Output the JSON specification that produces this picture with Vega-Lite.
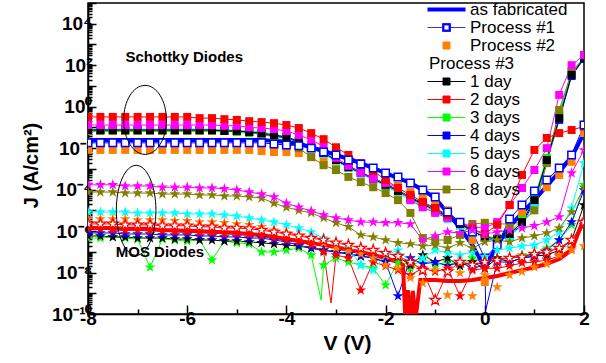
{
"$schema":"https://vega.github.io/schema/vega-lite/v6.json",
"width":496,"height":311,
"autosize":{"type":"none"},
"padding":{"left":88,"top":3,"right":22,"bottom":49},
"background":"white",
"config":{"view":{"stroke":"black","strokeWidth":1.5},
 "axis":{"domainColor":"black","domainWidth":1.5,"tickColor":"black","tickWidth":1.5,"labelColor":"black","titleColor":"black","grid":false,"labelFont":"Liberation Sans","labelFontWeight":"bold","titleFont":"Liberation Sans","titleFontWeight":"bold","labelFlush":false,"labelOverlap":false}},
"data":{"values":[
{"g":"MOS","s":"3 days","V":[-8,-7.75,-7.5,-7.25,-7,-6.75,-6.5,-6.25,-6,-5.75,-5.5,-5.25,-5,-4.75,-4.5,-4.25,-4,-3.75,-3.5,-3.3,-3.25,-3,-2.75,-2.5,-2.25,-2,-1.75,-1.5,-1.25,-1,-0.75,-0.5,-0.25,0,0.25,0.5,0.75,1,1.25,1.5,1.75,2],"J":[4.6e-7,4.6e-7,5.2e-7,4.6e-7,4.1e-7,1.8e-8,4.1e-7,3.7e-7,3.3e-7,3.7e-7,4.0e-8,3.3e-7,2.7e-7,2.4e-7,9.8e-8,9.8e-8,1.2e-7,1.5e-7,7.0e-8,4.7e-10,2.3e-8,5.0e-8,3.2e-8,2.3e-8,1.6e-8,2.5e-9,3.2e-8,1.6e-8,5.0e-8,2.3e-8,3.2e-8,2.1e-8,5.0e-8,3.2e-8,4.0e-8,5.0e-8,7.0e-8,7.8e-8,1.5e-7,3.7e-7,2.0e-6,1.7e-4]},
{"g":"MOS","s":"1 day","V":[-8,-7.75,-7.5,-7.25,-7,-6.75,-6.5,-6.25,-6,-5.75,-5.5,-5.25,-5,-4.75,-4.5,-4.25,-4,-3.75,-3.5,-3.25,-3,-2.75,-2.5,-2.25,-2,-1.75,-1.5,-1.25,-1,-0.75,-0.5,-0.25,0,0.25,0.5,0.75,1,1.25,1.5,1.75,2],"J":[5.8e-7,5.8e-7,5.2e-7,5.2e-7,4.6e-7,4.6e-7,4.6e-7,4.1e-7,4.1e-7,3.7e-7,3.7e-7,3.3e-7,3.3e-7,3.0e-7,2.7e-7,2.4e-7,2.1e-7,1.9e-7,1.5e-7,1.2e-7,9.8e-8,7.8e-8,6.2e-8,5.0e-8,3.2e-8,5.6e-8,2.3e-8,7.0e-8,3.2e-8,5.0e-8,2.1e-8,3.2e-8,1.6e-8,5.0e-8,3.2e-8,5.0e-8,6.2e-8,7.0e-8,1.2e-7,3.7e-7,1.8e-5]},
{"g":"MOS","s":"4 days","V":[-8,-7.75,-7.5,-7.25,-7,-6.75,-6.5,-6.25,-6,-5.75,-5.5,-5.25,-5,-4.75,-4.5,-4.25,-4,-3.75,-3.5,-3.25,-3,-2.75,-2.5,-2.25,-2,-1.75,-1.5,-1.25,-1,-0.75,-0.5,-0.25,0,0.02,0.25,0.5,0.75,1,1.25,1.5,1.75,2],"J":[8.1e-7,8.1e-7,8.1e-7,7.2e-7,7.2e-7,7.2e-7,6.5e-7,6.5e-7,6.5e-7,5.8e-7,5.8e-7,5.2e-7,5.2e-7,4.6e-7,4.6e-7,3.7e-7,3.0e-7,2.1e-7,1.5e-7,1.2e-7,9.8e-8,7.8e-8,6.2e-8,5.0e-8,3.2e-8,7.4e-10,5.0e-8,2.6e-8,3.2e-8,2.1e-8,3.2e-8,1.6e-8,2.3e-8,1.6e-10,3.2e-8,3.2e-8,5.0e-8,6.2e-8,1.2e-7,3.7e-7,2.7e-6,9.5e-5]},
{"g":"MOS","s":"2 days","V":[-8,-7.75,-7.5,-7.25,-7,-6.75,-6.5,-6.25,-6,-5.75,-5.5,-5.25,-5,-4.75,-4.5,-4.25,-4,-3.75,-3.5,-3.25,-3.1,-3,-2.75,-2.5,-2.25,-2,-1.75,-1.5,-1.25,-1,-0.75,-0.5,-0.25,0,0.25,0.5,0.75,1,1.25,1.5,1.75,2],"J":[1.3e-6,1.3e-6,1.1e-6,1.1e-6,1.1e-6,1.0e-6,1.0e-6,9.0e-7,9.0e-7,8.1e-7,8.1e-7,7.2e-7,7.2e-7,6.5e-7,5.8e-7,4.6e-7,3.7e-7,3.0e-7,2.1e-7,9.8e-8,3.4e-10,7.0e-8,5.0e-8,1.4e-9,3.2e-8,2.1e-8,1.3e-8,7.6e-9,1.6e-8,1.1e-8,1.6e-8,7.4e-10,1.3e-8,1.6e-8,1.6e-8,2.1e-8,2.9e-8,3.2e-8,4.0e-8,6.2e-8,1.5e-7,2.0e-6]},
{"g":"MOS","s":"Process #1 MOS","V":[-8,-7.75,-7.5,-7.25,-7,-6.75,-6.5,-6.25,-6,-5.75,-5.5,-5.25,-5,-4.75,-4.5,-4.25,-4,-3.75,-3.5,-3.25,-3,-2.75,-2.5,-2.25,-2,-1.75,-1.5,-1.25,-1,-0.75,-0.5,-0.25,0,0.25,0.5,0.75,1,1.25,1.5,1.75,2],"J":[2.2e-6,2.2e-6,2.2e-6,2.0e-6,2.0e-6,2.0e-6,1.8e-6,1.8e-6,1.8e-6,1.6e-6,1.6e-6,1.4e-6,1.4e-6,1.3e-6,1.1e-6,9.0e-7,7.2e-7,5.8e-7,4.6e-7,3.7e-7,2.7e-7,2.1e-7,1.5e-7,1.2e-7,8.7e-8,6.2e-8,3.2e-8,1.3e-8,4.7e-10,1.1e-8,3.2e-8,2.3e-8,3.2e-8,4.0e-8,5.0e-8,5.6e-8,7.8e-8,9.8e-8,1.5e-7,3.7e-7,2.7e-6]},
{"g":"MOS","s":"5 days","V":[-8,-7.75,-7.5,-7.25,-7,-6.75,-6.5,-6.25,-6,-5.75,-5.5,-5.25,-5,-4.75,-4.5,-4.25,-4,-3.75,-3.5,-3.25,-3,-2.75,-2.5,-2.25,-2,-1.75,-1.5,-1.25,-1,-0.75,-0.5,-0.25,0,0.25,0.5,0.75,1,1.25,1.5,1.75,2],"J":[8.3e-6,8.3e-6,8.3e-6,8.3e-6,7.5e-6,7.5e-6,7.5e-6,7.5e-6,6.7e-6,6.7e-6,6.7e-6,6.0e-6,5.3e-6,4.3e-6,3.4e-6,2.7e-6,2.0e-6,1.4e-6,9.0e-7,4.6e-7,2.1e-7,1.5e-7,2.3e-8,1.3e-8,7.0e-8,1.2e-7,3.2e-8,5.0e-8,1.2e-7,8.7e-8,7.0e-8,9.8e-8,5.6e-8,1.2e-7,1.5e-7,1.9e-7,2.1e-7,3.7e-7,9.0e-7,1.3e-5,1.9e-3]},
{"g":"MOS","s":"Process #2","V":[-8,-7.75,-7.5,-7.25,-7,-6.75,-6.5,-6.25,-6,-5.75,-5.5,-5.25,-5,-4.75,-4.5,-4.25,-4,-3.75,-3.5,-3.25,-3,-2.75,-2.5,-2.25,-2,-1.75,-1.5,-1.25,-1,-0.75,-0.5,-0.25,0,0.25,0.5,0.75,1,1.25,1.5,1.75,2],"J":[3.8e-6,3.8e-6,3.8e-6,3.8e-6,3.4e-6,3.4e-6,3.4e-6,3.1e-6,3.1e-6,2.7e-6,2.7e-6,2.5e-6,2.2e-6,2.0e-6,1.6e-6,1.1e-6,8.1e-7,5.8e-7,4.1e-7,2.7e-7,1.5e-7,1.1e-7,7.8e-8,5.0e-8,2.3e-8,1.6e-8,5.5e-9,3.1e-9,1.3e-8,8.2e-10,9.5e-9,7.4e-10,7.6e-9,2.0e-9,7.6e-9,1.1e-8,1.8e-8,2.6e-8,7.0e-8,1.2e-7,1.9e-7]},
{"g":"MOS","s":"8 days","V":[-8,-7.75,-7.5,-7.25,-7,-6.75,-6.5,-6.25,-6,-5.75,-5.5,-5.25,-5,-4.75,-4.5,-4.25,-4,-3.75,-3.5,-3.25,-3,-2.75,-2.5,-2.25,-2,-1.75,-1.5,-1.25,-1,-0.75,-0.5,-0.25,0,0.25,0.5,0.75,1,1.25,1.5,1.75,2],"J":[7.6e-5,7.6e-5,7.6e-5,6.8e-5,6.8e-5,6.8e-5,6.1e-5,6.1e-5,6.1e-5,5.5e-5,5.5e-5,4.9e-5,4.9e-5,4.4e-5,3.9e-5,2.2e-5,1.4e-5,1.0e-5,7.5e-6,4.3e-6,2.5e-6,1.6e-6,6.5e-7,5.2e-7,3.7e-7,2.7e-7,2.4e-7,1.9e-7,2.1e-7,1.5e-7,2.7e-7,1.5e-7,3.0e-7,3.7e-7,3.0e-7,4.6e-7,5.8e-7,8.1e-7,1.4e-6,8.3e-6,1.3e-4]},
{"g":"MOS","s":"6 days","V":[-8,-7.75,-7.5,-7.25,-7,-6.75,-6.5,-6.25,-6,-5.75,-5.5,-5.25,-5,-4.75,-4.5,-4.25,-4,-3.75,-3.5,-3.25,-3,-2.75,-2.5,-2.25,-2,-1.75,-1.5,-1.25,-1,-0.75,-0.5,-0.25,0,0.25,0.5,0.75,1,1.25,1.5,1.75,2],"J":[1.7e-4,1.7e-4,1.7e-4,1.5e-4,1.5e-4,1.5e-4,1.3e-4,1.3e-4,1.3e-4,1.2e-4,1.2e-4,1.1e-4,9.5e-5,7.6e-5,6.1e-5,4.4e-5,2.2e-5,1.4e-5,9.3e-6,6.0e-6,4.3e-6,3.4e-6,2.7e-6,2.7e-6,2.5e-6,2.5e-6,2.2e-6,3.7e-7,5.8e-7,9.0e-7,8.1e-7,1.1e-6,7.2e-7,9.0e-7,1.1e-6,1.4e-6,1.8e-6,2.7e-6,4.8e-6,6.3e-4,8.2e-3]},
{"g":"MOS","s":"as fabricated MOS","V":[-8,-7.75,-7.5,-7.25,-7,-6.75,-6.5,-6.25,-6,-5.75,-5.5,-5.25,-5,-4.75,-4.5,-4.25,-4,-3.75,-3.5,-3.25,-3,-2.75,-2.5,-2.25,-2,-1.75,-1.65,-1.6,-1.55,-1.5,-1.45,-1.4,-1.3,-1.25,-1,-0.75,-0.5,-0.25,0,0.25,0.5,0.75,1,1.25,1.5,1.75,2],"J":[1.4e-6,1.4e-6,1.4e-6,1.3e-6,1.3e-6,1.3e-6,1.1e-6,1.1e-6,1.0e-6,1.0e-6,9.0e-7,9.0e-7,8.1e-7,7.2e-7,6.5e-7,5.2e-7,4.1e-7,3.3e-7,2.7e-7,2.1e-7,1.7e-7,1.2e-7,9.8e-8,7.0e-8,5.0e-8,3.2e-8,2.3e-8,5e-11,1.4e-9,5e-11,1.3e-9,5e-11,4.4e-9,4.4e-9,4.4e-9,3.9e-9,3.9e-9,4.4e-9,5.5e-9,6.8e-9,9.5e-9,1.3e-8,1.8e-8,2.6e-8,4.5e-8,1.2e-7,4.3e-6]},
{"g":"Schottky","s":"Process #2","V":[-8,-7.75,-7.5,-7.25,-7,-6.75,-6.5,-6.25,-6,-5.75,-5.5,-5.25,-5,-4.75,-4.5,-4.25,-4,-3.75,-3.5,-3.25,-3,-2.75,-2.5,-2.25,-2,-1.75,-1.5,-1.25,-1,-0.75,-0.5,-0.25,0,0.25,0.5,0.75,1,1.25,1.5,1.75,2],"J":[8.2e-3,8.2e-3,8.2e-3,8.2e-3,8.2e-3,8.2e-3,8.2e-3,8.2e-3,8.2e-3,8.2e-3,8.2e-3,8.2e-3,8.2e-3,8.2e-3,7.3e-3,6.5e-3,6.5e-3,5.8e-3,3.7e-3,2.2e-3,1.9e-3,1.2e-3,7.9e-4,5.1e-4,2.9e-4,1.5e-4,7.6e-5,3.9e-5,2.2e-5,1.0e-5,2.5e-6,3.7e-7,3.5e-9,3.7e-7,1.4e-6,7.5e-6,3.1e-5,1.3e-4,5.1e-4,2.2e-3,5.3e-2]},
{"g":"Schottky","s":"Process #1","V":[-8,-7.75,-7.5,-7.25,-7,-6.75,-6.5,-6.25,-6,-5.75,-5.5,-5.25,-5,-4.75,-4.5,-4.25,-4,-3.75,-3.5,-3.25,-3,-2.75,-2.5,-2.25,-2,-1.75,-1.5,-1.25,-1,-0.75,-0.5,-0.25,0,0.25,0.5,0.75,1,1.25,1.5,1.75,2],"J":[1.8e-2,1.8e-2,1.8e-2,1.8e-2,1.8e-2,1.8e-2,1.8e-2,1.8e-2,1.8e-2,1.8e-2,1.8e-2,1.8e-2,1.8e-2,1.8e-2,1.8e-2,1.6e-2,1.4e-2,1.3e-2,1.0e-2,6.5e-3,4.7e-3,2.7e-3,1.7e-3,1.1e-3,6.3e-4,4.1e-4,2.1e-4,9.5e-5,4.4e-5,8.3e-6,2.7e-6,9.0e-7,5.0e-8,2.1e-7,3.8e-6,1.8e-5,8.5e-5,2.9e-4,1.1e-3,4.7e-3,1.3e-1]},
{"g":"Schottky","s":"as fabricated","V":[-8,-7.75,-7.5,-7.25,-7,-6.75,-6.5,-6.25,-6,-5.75,-5.5,-5.25,-5,-4.75,-4.5,-4.25,-4,-3.75,-3.5,-3.25,-3,-2.75,-2.5,-2.25,-2,-1.75,-1.5,-1.25,-1,-0.75,-0.5,-0.25,0,0.25,0.5,0.75,1,1.25,1.5,1.75,2],"J":[2.5e-2,2.5e-2,2.5e-2,2.5e-2,2.5e-2,2.5e-2,2.5e-2,2.5e-2,2.5e-2,2.5e-2,2.5e-2,2.5e-2,2.5e-2,2.5e-2,2.5e-2,2.2e-2,2.0e-2,1.6e-2,1.1e-2,7.3e-3,4.7e-3,3.0e-3,1.9e-3,1.1e-3,6.3e-4,3.6e-4,2.1e-4,9.5e-5,3.9e-5,7.5e-6,1.4e-6,2.1e-7,1.6e-8,2.1e-7,1.6e-6,7.5e-6,3.1e-5,1.5e-4,7.1e-4,3.7e-3,5.3e-2]},
{"g":"Schottky","s":"3 days","V":[-8,-7.75,-7.5,-7.25,-7,-6.75,-6.5,-6.25,-6,-5.75,-5.5,-5.25,-5,-4.75,-4.5,-4.25,-4,-3.75,-3.5,-3.25,-3,-2.75,-2.5,-2.25,-2,-1.75,-1.5,-1.25,-1,-0.75,-0.5,-0.25,0,0.25,0.5,0.75,1,1.25,1.5,1.75,2],"J":[6.7e-2,6.7e-2,6.7e-2,6.7e-2,6.7e-2,6.7e-2,6.7e-2,6.7e-2,6.7e-2,6.7e-2,6.7e-2,6.7e-2,6.0e-2,5.3e-2,4.8e-2,3.8e-2,3.1e-2,2.0e-2,1.0e-2,5.2e-3,2.4e-3,1.2e-3,6.3e-4,3.3e-4,1.5e-4,7.6e-5,3.5e-5,1.8e-5,9.3e-6,4.3e-6,2.0e-6,9.0e-7,5.8e-7,4.6e-7,9.0e-7,3.4e-6,3.9e-5,3.4e-3,4.4e-1,4.7e1,2.5e2]},
{"g":"Schottky","s":"4 days","V":[-8,-7.75,-7.5,-7.25,-7,-6.75,-6.5,-6.25,-6,-5.75,-5.5,-5.25,-5,-4.75,-4.5,-4.25,-4,-3.75,-3.5,-3.25,-3,-2.75,-2.5,-2.25,-2,-1.75,-1.5,-1.25,-1,-0.75,-0.5,-0.25,0,0.25,0.5,0.75,1,1.25,1.5,1.75,2],"J":[7.5e-2,7.5e-2,7.5e-2,7.5e-2,7.5e-2,7.5e-2,7.5e-2,7.5e-2,7.5e-2,7.5e-2,7.5e-2,7.5e-2,6.7e-2,6.0e-2,4.8e-2,3.8e-2,3.1e-2,2.0e-2,1.1e-2,5.8e-3,2.7e-3,1.4e-3,7.1e-4,3.6e-4,1.9e-4,9.5e-5,4.4e-5,2.2e-5,1.2e-5,5.3e-6,2.5e-6,1.1e-6,4.6e-7,3.3e-7,5.8e-7,2.2e-6,2.5e-5,2.2e-3,2.3e-1,3.0e1,2.0e2]},
{"g":"Schottky","s":"5 days","V":[-8,-7.75,-7.5,-7.25,-7,-6.75,-6.5,-6.25,-6,-5.75,-5.5,-5.25,-5,-4.75,-4.5,-4.25,-4,-3.75,-3.5,-3.25,-3,-2.75,-2.5,-2.25,-2,-1.75,-1.5,-1.25,-1,-0.75,-0.5,-0.25,0,0.25,0.5,0.75,1,1.25,1.5,1.75,2],"J":[8.3e-2,8.3e-2,8.3e-2,8.3e-2,8.3e-2,8.3e-2,8.3e-2,8.3e-2,8.3e-2,8.3e-2,8.3e-2,7.5e-2,7.5e-2,6.7e-2,6.0e-2,4.8e-2,3.4e-2,2.2e-2,1.1e-2,5.2e-3,2.4e-3,1.1e-3,5.7e-4,2.9e-4,1.5e-4,6.8e-5,3.1e-5,1.6e-5,8.3e-6,3.8e-6,1.8e-6,8.1e-7,4.6e-7,3.7e-7,5.8e-7,1.8e-6,1.8e-5,1.9e-3,3.6e-1,4.2e1,2.5e2]},
{"g":"Schottky","s":"8 days","V":[-8,-7.75,-7.5,-7.25,-7,-6.75,-6.5,-6.25,-6,-5.75,-5.5,-5.25,-5,-4.75,-4.5,-4.25,-4,-3.75,-3.5,-3.25,-3,-2.75,-2.5,-2.25,-2,-1.75,-1.5,-1.25,-1,-0.75,-0.5,-0.25,0,0.25,0.5,0.75,1,1.25,1.5,1.75,2],"J":[6.7e-2,6.7e-2,6.7e-2,6.7e-2,6.7e-2,6.7e-2,6.7e-2,6.7e-2,6.7e-2,6.7e-2,6.7e-2,6.7e-2,6.7e-2,6.0e-2,4.8e-2,3.4e-2,2.0e-2,1.0e-2,3.7e-3,1.5e-3,8.8e-4,4.1e-4,2.3e-4,1.3e-4,6.8e-5,3.1e-5,7.5e-6,4.6e-7,3.7e-7,3.7e-7,6.5e-7,2.2e-6,2.5e-6,2.2e-6,2.2e-6,2.7e-6,1.0e-5,1.9e-3,6.9e-1,4.7e1,2.2e2]},
{"g":"Schottky","s":"1 day","V":[-8,-7.75,-7.5,-7.25,-7,-6.75,-6.5,-6.25,-6,-5.75,-5.5,-5.25,-5,-4.75,-4.5,-4.25,-4,-3.75,-3.5,-3.25,-3,-2.75,-2.5,-2.25,-2,-1.75,-1.5,-1.25,-1,-0.75,-0.5,-0.25,0,0.25,0.5,0.75,1,1.25,1.5,1.75,2],"J":[7.5e-2,7.5e-2,7.5e-2,7.5e-2,7.5e-2,7.5e-2,7.5e-2,7.5e-2,7.5e-2,7.5e-2,7.5e-2,6.7e-2,6.7e-2,6.0e-2,5.3e-2,4.3e-2,3.4e-2,2.2e-2,1.1e-2,5.8e-3,2.7e-3,1.2e-3,6.3e-4,3.3e-4,1.7e-4,8.5e-5,3.9e-5,2.0e-5,1.0e-5,4.8e-6,2.2e-6,1.0e-6,5.2e-7,4.1e-7,7.2e-7,2.7e-6,3.1e-5,2.7e-3,2.8e-1,3.4e1,2.2e2]},
{"g":"Schottky","s":"6 days","V":[-8,-7.75,-7.5,-7.25,-7,-6.75,-6.5,-6.25,-6,-5.75,-5.5,-5.25,-5,-4.75,-4.5,-4.25,-4,-3.75,-3.5,-3.25,-3,-2.75,-2.5,-2.25,-2,-1.75,-1.5,-1.25,-1,-0.75,-0.5,-0.25,0,0.25,0.5,0.75,1,1.25,1.5,1.75,2],"J":[1.3e-1,1.3e-1,1.3e-1,1.3e-1,1.3e-1,1.3e-1,1.3e-1,1.3e-1,1.3e-1,1.3e-1,1.3e-1,1.2e-1,1.2e-1,1.0e-1,9.3e-2,8.3e-2,6.7e-2,4.3e-2,2.5e-2,1.2e-2,3.4e-3,1.4e-3,6.3e-4,3.3e-4,2.1e-4,1.2e-4,3.1e-5,1.4e-5,7.5e-6,4.3e-6,2.7e-6,1.6e-6,1.4e-6,2.7e-6,1.8e-5,1.2e-4,8.8e-4,1.0e-2,3.7,1.0e2,3.1e2]},
{"g":"Schottky","s":"2 days","V":[-8,-7.75,-7.5,-7.25,-7,-6.75,-6.5,-6.25,-6,-5.75,-5.5,-5.25,-5,-4.75,-4.5,-4.25,-4,-3.75,-3.5,-3.25,-3,-2.75,-2.5,-2.25,-2,-1.75,-1.5,-1.25,-1,-0.75,-0.5,-0.25,0,0.25,0.5,0.75,1,1.25,1.5,1.75,2],"J":[3.2e-1,3.2e-1,3.2e-1,3.2e-1,3.2e-1,3.2e-1,3.2e-1,3.2e-1,3.2e-1,2.8e-1,2.8e-1,2.5e-1,2.3e-1,2.0e-1,1.8e-1,1.6e-1,1.3e-1,9.3e-2,5.3e-2,2.7e-2,1.1e-2,4.7e-3,1.9e-3,7.9e-4,2.9e-4,1.2e-4,5.5e-5,2.5e-5,1.3e-5,6.0e-6,2.7e-6,1.3e-6,7.2e-7,2.0e-6,1.8e-5,5.1e-4,8.2e-3,3.1e-2,5.3e-2,7.5e-2,1.1e-1]}
]},
"encoding":{
 "x":{"field":"V","type":"quantitative","scale":{"domain":[-8,2],"nice":false,"zero":false},
  "axis":{"values":[-8,-7,-6,-5,-4,-3,-2,-1,0,1,2],"labelExpr":"datum.value % 2 == 0 ? toString(datum.value) : ''","tickSize":{"condition":{"test":"datum.value % 2 == 0","value":-9},"value":-5},"labelFontSize":19,"labelPadding":4,"title":"V (V)","titleFontSize":21,"titleX":259,"titlePadding":0,
   "encode":{"labels":{"update":{"dy":{"value":5}}}}}},
 "y":{"field":"J","type":"quantitative","scale":{"type":"log","domain":[1e-10,1e5],"nice":false},
  "axis":{"values":[1e-10,2e-10,3e-10,4e-10,5e-10,6e-10,7e-10,8e-10,9e-10,1e-9,2e-9,3e-9,4e-9,5e-9,6e-9,7e-9,8e-9,9e-9,1e-8,2e-8,3e-8,4e-8,5e-8,6e-8,7e-8,8e-8,9e-8,1e-7,2e-7,3e-7,4e-7,5e-7,6e-7,7e-7,8e-7,9e-7,1e-6,2e-6,3e-6,4e-6,5e-6,6e-6,7e-6,8e-6,9e-6,1e-5,2e-5,3e-5,4e-5,5e-5,6e-5,7e-5,8e-5,9e-5,1e-4,2e-4,3e-4,4e-4,5e-4,6e-4,7e-4,8e-4,9e-4,1e-3,2e-3,3e-3,4e-3,5e-3,6e-3,7e-3,8e-3,9e-3,1e-2,2e-2,3e-2,4e-2,5e-2,6e-2,7e-2,8e-2,9e-2,1e-1,2e-1,3e-1,4e-1,5e-1,6e-1,7e-1,8e-1,9e-1,1e0,2e0,3e0,4e0,5e0,6e0,7e0,8e0,9e0,1e1,2e1,3e1,4e1,5e1,6e1,7e1,8e1,9e1,1e2,2e2,3e2,4e2,5e2,6e2,7e2,8e2,9e2,1e3,2e3,3e3,4e3,5e3,6e3,7e3,8e3,9e3,1e4,2e4,3e4,4e4,5e4,6e4,7e4,8e4,9e4,1e5],
   "labelExpr":"abs(log(datum.value)/LN10 - round(log(datum.value)/LN10)) < 0.001 && round(log(datum.value)/LN10) % 2 == 0 ? '10' + replace(replace(replace(replace(replace(replace(replace(toString(round(log(datum.value)/LN10)), '-', '⁻'), '0', '⁰'), '1', '¹'), '2', '²'), '4', '⁴'), '6', '⁶'), '8', '⁸') : ''",
   "tickSize":{"condition":{"test":"abs(log(datum.value)/LN10 - round(log(datum.value)/LN10)) < 0.001","value":-8},"value":-4},
   "labelFontSize":19,"labelPadding":4,"title":"J (A/cm²)","titleFontSize":20,"titleX":-47,"titleY":162}},
 "color":{"field":"s","type":"nominal",
  "scale":{"domain":["as fabricated","Process #1","Process #2","Process #3","1 day","2 days","3 days","4 days","5 days","6 days","8 days","as fabricated MOS","Process #1 MOS"],
   "range":["#0000ff","#0000ff","#ff8000","#ffffff","#000000","#ff0000","#00ff00","#0000ff","#00ffff","#ff00ff","#808000","#ff0000","#ff0000"]},
  "legend":{"values":["as fabricated","Process #1","Process #2","Process #3","1 day","2 days","3 days","4 days","5 days","6 days","8 days"],
   "title":null,"orient":"none","legendX":350,"legendY":-2,"padding":0,"labelFont":"Liberation Sans","labelFontSize":17,"labelColor":"black","labelOffset":15,"symbolSize":100,"rowPadding":0,"symbolOffset":0,"labelLimit":200,
   "encode":{"symbols":{"update":{
     "shape":{"signal":"datum.value === 'as fabricated' ? 'M-3.8,0H3.8' : datum.value === 'Process #2' ? 'M-0.7,-0.7H0.7V0.7H-0.7Z' : datum.value === 'Process #1' ? 'M-3.8,0H-0.7M0.7,0H3.8M-0.8,-0.8H0.8V0.8H-0.8ZM-0.5,-0.5V0.5H0.5V-0.5Z' : 'M-3.8,0H-0.7M0.7,0H3.8M-0.7,-0.7H0.7V0.7H-0.7Z'"},
     "fill":{"signal":"scale('color', datum.value)"},
     "stroke":{"signal":"scale('color', datum.value)"},
     "strokeWidth":{"signal":"datum.value === 'as fabricated' ? 4 : datum.value === 'Process #1' ? 0.8 : 1"},
     "opacity":{"signal":"datum.value === 'Process #3' ? 0 : 1"},
     "size":{"value":100}}},
    "labels":{"update":{"dx":{"signal":"datum.value === 'Process #3' ? -41 : 0"}}}}}}
},
"layer":[
 {"transform":[{"flatten":["V","J"]},{"filter":"datum.s !== 'as fabricated' && datum.s !== 'as fabricated MOS' && datum.s !== 'Process #2'"}],
  "mark":{"type":"line","strokeWidth":1,"clip":true},"encoding":{"detail":{"field":"g","type":"nominal"}}},
 {"transform":[{"flatten":["V","J"]},{"filter":"datum.s === 'as fabricated' || datum.s === 'as fabricated MOS'"}],
  "mark":{"type":"line","strokeWidth":4,"clip":true},"encoding":{"detail":{"field":"g","type":"nominal"}}},
 {"transform":[{"flatten":["V","J"]},{"filter":"datum.g === 'Schottky' && datum.s !== 'as fabricated' && datum.s !== 'Process #1' && datum.V * 4 === round(datum.V * 4)"}],
  "mark":{"type":"point","shape":"square","filled":true,"size":64,"opacity":1,"clip":true}},
 {"transform":[{"flatten":["V","J"]},{"filter":"datum.g === 'Schottky' && datum.s === 'Process #1' && datum.V * 4 === round(datum.V * 4)"}],
  "mark":{"type":"point","shape":"square","filled":false,"fill":"white","strokeWidth":1.5,"size":56,"opacity":1,"clip":true}},
 {"transform":[{"flatten":["V","J"]},{"filter":"datum.g === 'MOS' && datum.s !== 'as fabricated MOS' && datum.s !== 'Process #1 MOS' && datum.V * 4 === round(datum.V * 4)"}],
  "mark":{"type":"point","shape":"M0,-1L0.225,-0.309L0.951,-0.309L0.363,0.118L0.588,0.809L0,0.382L-0.588,0.809L-0.363,0.118L-0.951,-0.309L-0.225,-0.309Z","filled":true,"size":130,"opacity":1,"clip":true}},
 {"transform":[{"flatten":["V","J"]},{"filter":"datum.s === 'Process #1 MOS' && datum.V * 4 === round(datum.V * 4)"}],
  "mark":{"type":"point","shape":"M0,-1L0.225,-0.309L0.951,-0.309L0.363,0.118L0.588,0.809L0,0.382L-0.588,0.809L-0.363,0.118L-0.951,-0.309L-0.225,-0.309Z","filled":false,"fill":"white","strokeWidth":1.2,"size":130,"opacity":1,"clip":true}},
 {"data":{"values":[{"t":"Schottky Diodes","V":-6.06,"J":250},{"t":"MOS Diodes","V":-6.55,"J":9.8e-8}]},
  "mark":{"type":"text","font":"Liberation Sans","fontWeight":"bold","fontSize":15,"align":"center","baseline":"middle"},
  "encoding":{"text":{"field":"t"},"color":{"value":"black"}}},
 {"data":{"values":[{"V":-6.85,"J":0.23}]},
  "mark":{"type":"point","shape":"M0,-1A0.62,1 0 1,1 0,1A0.62,1 0 1,1 0,-1Z","filled":false,"size":4761,"strokeWidth":1,"opacity":1},
  "encoding":{"color":{"value":"black"}}},
 {"data":{"values":[{"V":-7.03,"J":1.0e-5}]},
  "mark":{"type":"point","shape":"M0,-1A0.44,1 0 1,1 0,1A0.44,1 0 1,1 0,-1Z","filled":false,"size":8100,"strokeWidth":1,"opacity":1},
  "encoding":{"color":{"value":"black"}}}
]
}
